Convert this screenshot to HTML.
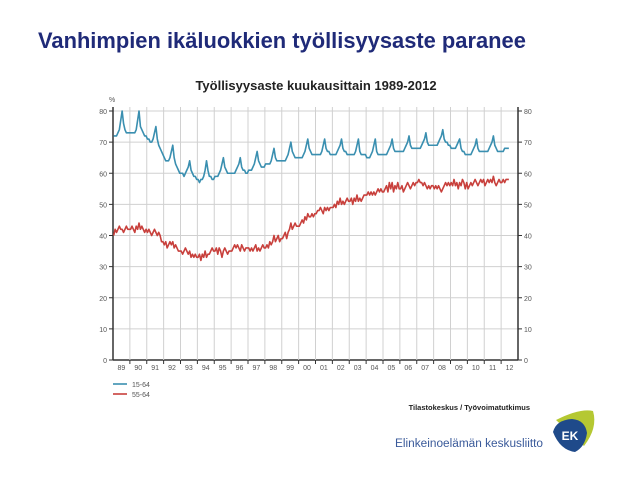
<!DOCTYPE html>
<html><head><meta charset="utf-8"><style>
body{margin:0;width:638px;height:479px;background:#fff;overflow:hidden;font-family:"Liberation Sans",sans-serif;position:relative}
.h{position:absolute;left:38px;top:28px;font-size:21.9px;font-weight:bold;color:#1f2a78;margin:0;white-space:nowrap}
</style></head><body>
<h1 class="h">Vanhimpien ikäluokkien työllisyysaste paranee</h1>
<svg id="c" width="638" height="479" style="position:absolute;left:0;top:0"></svg>
<script>
const years=['89','90','91','92','93','94','95','96','97','98','99','00','01','02','03','04','05','06','07','08','09','10','11','12'];
const yTicks=[0,10,20,30,40,50,60,70,80];
const s1564=[72,72,72,73,74,77,80,76,74,73,73,73, 73,73,73,73,74,77,80,75,74,73,72,72, 71,71,70,70,71,73,75,71,69,68,67,66, 65,64,64,64,65,67,69,65,63,62,61,60, 60,60,59,60,61,62,64,61,60,59,59,58, 58,57,58,58,59,61,64,61,59,59,58,58, 59,59,59,60,61,63,65,62,61,60,60,60, 60,60,60,61,62,63,65,62,61,61,60,60, 61,61,61,62,63,65,67,64,63,62,62,62, 63,63,63,63,64,66,68,65,64,64,64,64, 64,64,64,65,66,68,70,67,66,65,65,65, 65,65,65,66,67,69,71,68,67,66,66,66, 66,66,66,66,67,69,71,68,67,67,66,66, 66,66,66,67,68,69,71,68,67,67,66,66, 66,66,66,66,67,69,71,67,66,66,66,66, 65,65,65,66,67,69,71,67,66,66,66,66, 66,66,66,67,68,69,71,68,67,67,67,67, 67,67,67,68,69,70,72,69,68,68,68,68, 68,68,68,69,70,71,73,70,69,69,69,69, 69,69,69,70,71,72,74,71,70,70,69,69, 68,68,68,68,69,70,71,68,67,67,66,66, 66,66,66,67,68,69,71,68,67,67,67,67, 67,67,67,68,69,70,72,69,68,67,67,67, 67,67,68,68,68,68];
const s5564=[40,42,41,42,43,42,42,41,42,43,42,42, 42,43,42,41,43,42,44,42,43,42,41,42, 41,42,41,40,41,42,41,40,41,40,38,38, 37,38,36,37,38,37,38,36,37,36,35,35, 35,34,35,36,35,34,35,33,34,33,34,33, 33,34,32,34,33,35,33,34,34,35,36,35, 35,36,34,36,35,33,35,36,35,34,35,35, 35,36,37,36,37,36,35,37,36,35,36,36, 36,35,36,35,36,37,35,36,35,36,37,36, 36,37,36,38,37,38,40,38,39,40,38,39, 39,40,41,39,41,42,44,42,43,44,43,43, 43,44,45,44,46,45,47,46,46,47,46,47, 47,48,48,49,48,47,49,48,49,48,49,49, 49,50,49,51,50,52,50,51,50,51,52,51, 51,52,50,52,51,53,51,52,51,52,53,53, 53,54,53,54,53,54,53,54,55,54,55,54, 54,55,56,54,57,55,57,54,56,55,57,55, 55,56,54,55,56,57,56,55,56,57,56,57, 57,58,57,57,56,57,56,55,56,55,56,56, 55,56,55,56,55,54,55,56,57,56,57,56, 57,56,58,56,57,55,57,56,58,57,55,57, 55,56,57,56,57,58,57,56,57,58,57,58, 56,57,58,57,58,57,59,57,56,57,58,57, 57,58,57,58,58,58];
const NS='http://www.w3.org/2000/svg',svg=document.getElementById('c');
const X0=113,X1=518,Y0=360,Y80=111;
const yw=(X1-X0)/years.length;
const x=m=>X0+(m+0.5)/12*yw;
const y=v=>Y0-(v/80)*(Y0-Y80);
function el(t,a,txt){const e=document.createElementNS(NS,t);for(const k in a)e.setAttribute(k,a[k]);if(txt!=null)e.textContent=txt;svg.appendChild(e);return e;}
let e=el('text',{x:316,y:90,'text-anchor':'middle','font-size':13,'font-weight':'bold',fill:'#222'},'Työllisyysaste kuukausittain 1989-2012');


yTicks.forEach(v=>{
 let g=el('line',{x1:X0,x2:X1,y1:y(v),y2:y(v),stroke:v?'#d0d0d0':'#333','stroke-width':v?1:1.5});
 
 
 let l=el('text',{x:X0-6,y:y(v)+3,'text-anchor':'end','font-size':7,fill:'#555'},v);
 
 
 let r=el('text',{x:X1+6,y:y(v)+3,'font-size':7,fill:'#555'},v);
 
 
 el('line',{x1:X0-4,x2:X0,y1:y(v),y2:y(v),stroke:'#333'});
 el('line',{x1:X1,x2:X1+4,y1:y(v),y2:y(v),stroke:'#333'});
});
years.forEach((yr,i)=>{
 if(i>0)el('line',{x1:X0+i*yw,x2:X0+i*yw,y1:Y80-4,y2:Y0,stroke:'#d0d0d0'});
 if(i>0)el('line',{x1:X0+i*yw,x2:X0+i*yw,y1:Y0,y2:Y0+4,stroke:'#333'});
 let t=el('text',{x:X0+(i+0.5)*yw,y:Y0+10,'text-anchor':'middle','font-size':7,fill:'#555'},yr);
 
 
});
el('line',{x1:X0,x2:X0,y1:Y80-4,y2:Y0,stroke:'#333','stroke-width':1.5});
el('line',{x1:X1,x2:X1,y1:Y80-4,y2:Y0,stroke:'#333','stroke-width':1.5});
el('text',{x:X0-4,y:Y80-9,'font-size':7,fill:'#555'},'%');
function line(d,c,n){let p=el('polyline',{points:d.map((v,i)=>x(i)+','+y(v)).join(' '),fill:'none',stroke:c,'stroke-width':1.6,'stroke-linejoin':'round'});
 
 }
line(s1564,'#3a8fb0','series-15-64');
line(s5564,'#c8403c','series-55-64');
[['15-64','#3a8fb0',384],['55-64','#c8403c',394]].forEach(([t,c,yy])=>{
 el('line',{x1:113,x2:127,y1:yy,y2:yy,stroke:c,'stroke-width':1.6});
 let l=el('text',{x:132,y:yy+3,'font-size':7,fill:'#555'},t);
 
 
});
e=el('text',{x:530,y:410,'text-anchor':'end','font-size':7.5,'font-weight':'bold',fill:'#222'},'Tilastokeskus / Työvoimatutkimus');


e=el('text',{x:395,y:447,'font-size':11.5,fill:'#3a5a9a',textLength:148,lengthAdjust:'spacingAndGlyphs'},'Elinkeinoelämän keskusliitto');


el('path',{d:'M556 420 Q580 408 593 411 Q598 428 584 446 Z',fill:'#b5c832'});
el('path',{d:'M553 432 Q556 420 572 419 Q585 420 587 433 Q585 447 575 452 Q560 450 553 432 Z',fill:'#1f4a8a'});
e=el('text',{x:570,y:440,'text-anchor':'middle','font-size':12,'font-weight':'bold',fill:'#fff'},'EK');


</script>
</body></html>
